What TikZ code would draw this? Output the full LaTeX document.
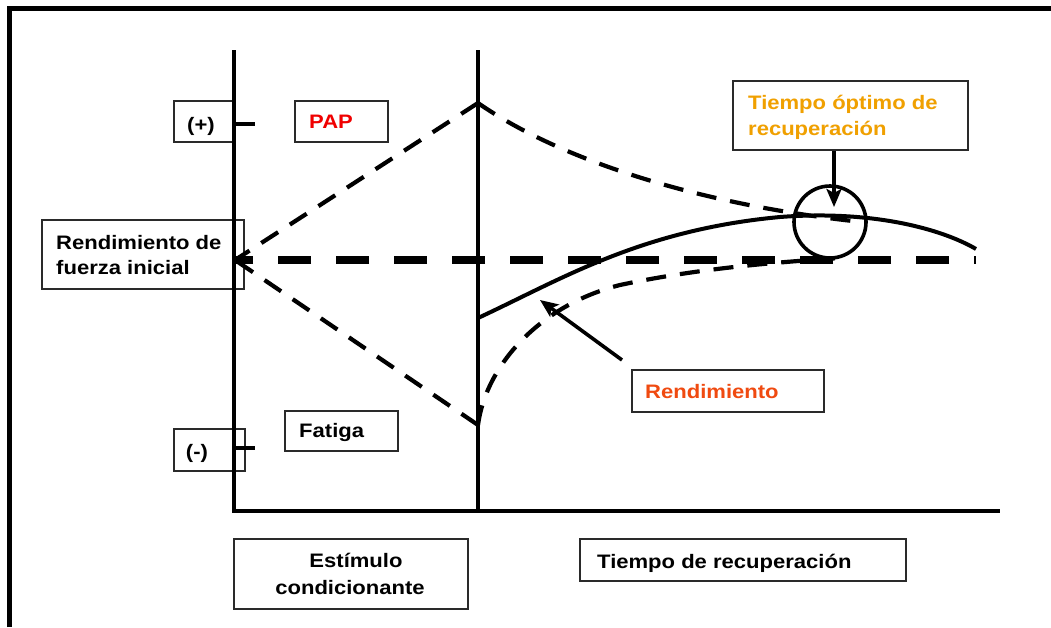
\documentclass[tikz,border=0pt]{standalone}
\usepackage{fontspec}
\setmainfont{Liberation Sans}[FakeStretch=1.13]
\usetikzlibrary{arrows.meta}
\definecolor{papred}{HTML}{F00000}
\definecolor{rendred}{HTML}{F04A10}
\definecolor{optor}{HTML}{F0A000}
\definecolor{boxgray}{HTML}{2A2A2A}
\begin{document}
\begin{tikzpicture}[x=1pt,y=-1pt,
  box/.style={draw=boxgray, line width=1.8pt, rectangle, inner sep=0pt, anchor=north west},
  txt/.style={font=\fontsize{19.5}{24}\selectfont\bfseries, inner sep=0pt},
  axisline/.style={line width=3.6pt},
  dsh/.style={line width=4.2pt, dash pattern=on 20pt off 14pt},
  bigdsh/.style={line width=8pt, dash pattern=on 33pt off 25pt, dash phase=31pt},
  tip/.style={-{Stealth[length=18pt,width=15pt,inset=4pt]}, line width=3.6pt}]
\useasboundingbox (0,0) rectangle (1051,627);
\fill[white] (0,0) rectangle (1051,627);
% frame
\coordinate (ftl) at (9.5,8.5);
\coordinate (ftr) at (1051,8.5);
\coordinate (fbl) at (9.5,627);
\draw[line width=5pt] (fbl) -- (ftl) -- (ftr);
% boxes
\node[box, minimum width=60pt, minimum height=41pt] (plusbox) at (173,100) {};
\node[box, minimum width=93pt, minimum height=41pt] (papbox) at (294,100) {};
\node[box, minimum width=202pt, minimum height=69pt] (rfibox) at (41,219) {};
\node[box, minimum width=113pt, minimum height=40pt] (fatbox) at (284,410) {};
\node[box, minimum width=71pt, minimum height=42pt] (minbox) at (173,428) {};
\node[box, minimum width=235pt, minimum height=69pt] (topbox) at (732,80) {};
\node[box, minimum width=192pt, minimum height=42pt] (rendbox) at (631,369) {};
\node[box, minimum width=234pt, minimum height=70pt] (estbox) at (233,538) {};
\node[box, minimum width=326pt, minimum height=42pt] (tdrbox) at (579,538) {};
% texts
\node[txt, anchor=base] (plustxt) at (201,131) {(+)};
\node[txt, anchor=base west, text=papred] (paptxt) at (309,128) {PAP};
\node[txt, anchor=base west] (rfi1) at (56,249) {Rendimiento de};
\node[txt, anchor=base west] (rfi2) at (56,274) {fuerza inicial};
\node[txt, anchor=base west] (fattxt) at (299,437) {Fatiga};
\node[txt, anchor=base] (mintxt) at (197,458) {(-)};
\node[txt, anchor=base west, text=optor] (opt1) at (748,109) {Tiempo óptimo de};
\node[txt, anchor=base west, text=optor] (opt2) at (748,135) {recuperación};
\node[txt, anchor=base west, text=rendred] (rendtxt) at (645,398) {Rendimiento};
\node[txt, anchor=base] (est1) at (356,567) {Estímulo};
\node[txt, anchor=base] (est2) at (350,594) {condicionante};
\node[txt, anchor=base west] (tdrtxt) at (597,568) {Tiempo de recuperación};
% axes
\coordinate (ytop) at (234,50);
\coordinate (ybot) at (234,511);
\coordinate (xend) at (1000,511);
\coordinate (mtop) at (478,50);
\coordinate (mbot) at (478,511);
\draw[axisline] (ytop) -- (ybot) -- (xend);
\draw[axisline] (mtop) -- (mbot);
\coordinate (tplus) at (255,124);
\coordinate (tminus) at (255,448);
\draw[axisline] (tplus -| ytop) -- (tplus);
\draw[axisline] (tminus -| ytop) -- (tminus);
% key points
\coordinate (apex) at (478,103);
\coordinate (nadir) at (478,425);
\coordinate (orig) at (235,260);
\coordinate (baseend) at (976,260);
\coordinate (solstart) at (478,318);
\coordinate (solend) at (976,249);
% dashed lines
\draw[dsh] (apex) -- (orig);
\draw[dsh] (nadir) -- (orig);
\draw[bigdsh] (baseend) -- (orig);
\draw[dsh] (apex) .. controls (560,160) and (700,205) .. (862,222);
\draw[dsh] (nadir) .. controls (486,365) and (540,305) .. (620,285) .. controls (700,268) and (780,262) .. (840,258);
% solid curve
\draw[line width=4pt] (solstart) .. controls (560,280) and (640,230) .. (780,217) .. controls (870,210) and (940,228) .. (solend);
% optimum circle and arrows
\node[circle, draw, line width=3.6pt, minimum size=72pt, inner sep=0pt] (optc) at (830,222) {};
\coordinate (opttip) at (834,207);
\draw[tip] (topbox.south -| opttip) -- (opttip);
\coordinate (rstart) at (622,360);
\coordinate (rtip) at (540,300);
\draw[tip] (rstart) -- (rtip);
\end{tikzpicture}
\end{document}
